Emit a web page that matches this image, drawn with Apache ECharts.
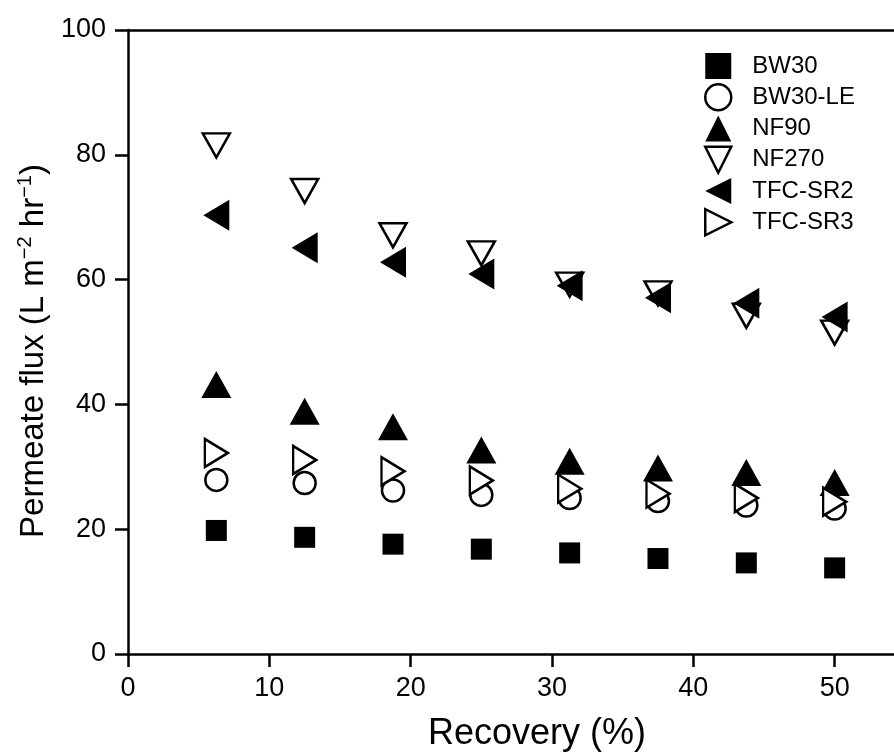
<!DOCTYPE html>
<html>
<head>
<meta charset="utf-8">
<script src="https://cdn.jsdelivr.net/npm/echarts@6/dist/echarts.min.js"></script>
<style>
html,body{margin:0;padding:0;background:#fff;}
#chart{width:894px;height:753px;}
</style>
</head>
<body>
<div id="chart"></div>
<script>
// Data
const recovery = [6.25, 12.5, 18.75, 25, 31.25, 37.5, 43.75, 50];
const bw30   = [19.8, 18.7, 17.6, 16.8, 16.2, 15.3, 14.6, 13.8];
const bw30le = [27.9, 27.4, 26.2, 25.5, 25.0, 24.5, 23.8, 23.3];
const nf90   = [43.2, 38.9, 36.4, 32.7, 30.9, 29.8, 29.1, 27.5];
const nf270  = [81.5, 74.2, 67.1, 64.2, 59.2, 57.8, 54.2, 51.5];
const tfcsr2 = [70.3, 65.1, 62.8, 60.9, 59.0, 57.1, 56.2, 54.0];
const tfcsr3 = [32.2, 31.1, 29.3, 27.8, 26.5, 25.7, 25.0, 24.4];
const xTicks = [0, 10, 20, 30, 40, 50];
const yTicks = [0, 20, 40, 60, 80, 100];
const seriesNames = ['BW30', 'BW30-LE', 'NF90', 'NF270', 'TFC-SR2', 'TFC-SR3'];

const FONT = '"Liberation Sans", Arial, Helvetica, sans-serif';
const pairs = arr => recovery.map((x, i) => [x, arr[i]]);

const TRI_DOWN  = 'path://M0,0 L10,0 L5,10 Z';
const TRI_LEFT  = 'path://M10,0 L10,10 L0,5 Z';
const TRI_RIGHT = 'path://M0,0 L0,10 L10,5 Z';

const chart = echarts.init(document.getElementById('chart'), null, {renderer: 'canvas'});

const styles = {
  'BW30':    {symbol: 'rect',     size: [21, 21], filled: true},
  'BW30-LE': {symbol: 'circle',   size: [22, 22], filled: false},
  'NF90':    {symbol: 'triangle', size: [30, 27], filled: true},
  'NF270':   {symbol: TRI_DOWN,   size: [27, 24], filled: false},
  'TFC-SR2': {symbol: TRI_LEFT,   size: [26, 31], filled: true},
  'TFC-SR3': {symbol: TRI_RIGHT,  size: [23, 28], filled: false}
};
const seriesData = {
  'BW30': bw30, 'BW30-LE': bw30le, 'NF90': nf90,
  'NF270': nf270, 'TFC-SR2': tfcsr2, 'TFC-SR3': tfcsr3
};

function itemStyleFor(filled) {
  return filled
    ? {color: '#000', borderColor: '#000', borderWidth: 0, opacity: 1}
    : {color: '#fff', borderColor: '#000', borderWidth: 2.5, opacity: 1};
}

const series = seriesNames.map(name => {
  const s = styles[name];
  return {
    name: name,
    type: 'scatter',
    data: pairs(seriesData[name]),
    symbol: s.symbol,
    symbolSize: s.size,
    itemStyle: itemStyleFor(s.filled),
    emphasis: {disabled: true},
    animation: false
  };
});

const legendData = seriesNames.map(name => {
  const s = styles[name];
  return {
    name: name,
    icon: s.symbol,
    itemStyle: itemStyleFor(s.filled)
  };
});

const option = {
  backgroundColor: '#fff',
  animation: false,
  grid: {left: 128, right: 0, top: 30, bottom: 99, containLabel: false, outerBoundsMode: 'none'},
  legend: {
    orient: 'vertical',
    left: 699,
    top: 48,
    itemWidth: 26,
    itemHeight: 26,
    itemGap: 4,
    textStyle: {fontFamily: FONT, fontSize: 24, color: '#000', lineHeight: 26, padding: [0, 0, 0, 16]},
    data: legendData
  },
  xAxis: [{
    type: 'value',
    min: 0,
    max: 54.2,
    position: 'bottom',
    name: 'Recovery (%)',
    nameLocation: 'middle',
    nameGap: 62,
    nameTextStyle: {fontFamily: FONT, fontSize: 36, color: '#000', padding: [0, 0, 0, 52]},
    axisLine: {show: true, lineStyle: {color: '#000', width: 2.5}},
    axisTick: {show: true, customValues: xTicks, length: 13, inside: false, lineStyle: {color: '#000', width: 2.5}},
    axisLabel: {show: true, customValues: xTicks, fontFamily: FONT, fontSize: 27, color: '#000', margin: 21},
    splitLine: {show: false}
  }, {
    type: 'value',
    min: 0,
    max: 54.2,
    position: 'top',
    axisLine: {show: true, onZero: false, lineStyle: {color: '#000', width: 2.5}},
    axisTick: {show: false},
    axisLabel: {show: false},
    splitLine: {show: false}
  }],
  yAxis: {
    type: 'value',
    min: 0,
    max: 100,
    interval: 20,
    name: '{a|Permeate flux (L m}{s|\u22122}{a| hr}{s|\u22121}{a|)}',
    nameLocation: 'middle',
    nameRotate: 90,
    nameGap: 74,
    nameTextStyle: {
      fontFamily: FONT, color: '#000', padding: [0, 18, 0, 0],
      rich: {
        a: {fontFamily: FONT, fontSize: 33, color: '#000'},
        s: {fontFamily: FONT, fontSize: 20, color: '#000', padding: [0, 0, 16, 0]}
      }
    },
    axisLine: {show: true, onZero: false, lineStyle: {color: '#000', width: 2.5}},
    axisTick: {show: true, length: 13, inside: false, lineStyle: {color: '#000', width: 2.5}},
    axisLabel: {show: true, fontFamily: FONT, fontSize: 27, color: '#000', margin: 22},
    splitLine: {show: false}
  },
  series: series
};
chart.setOption(option);
</script>
</body>
</html>
